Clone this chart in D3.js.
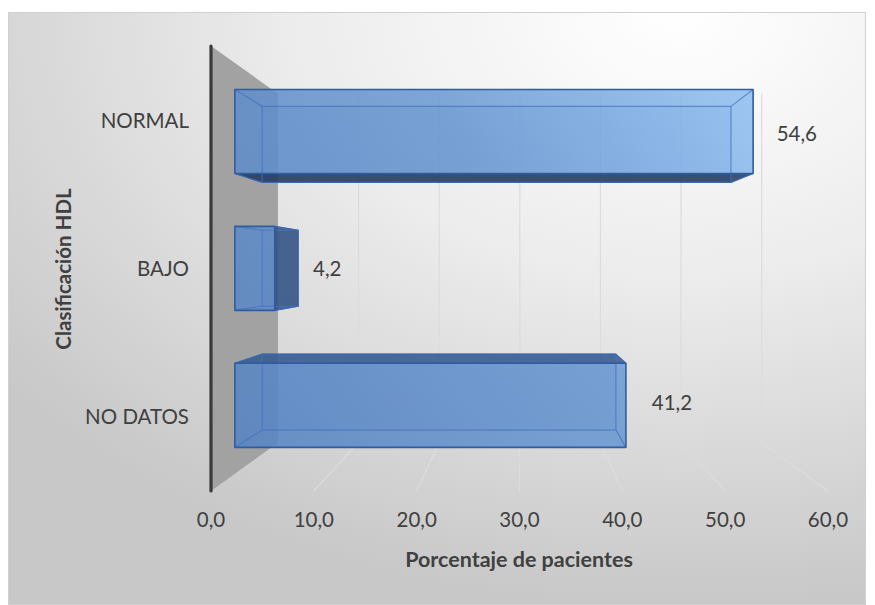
<!DOCTYPE html>
<html>
<head>
<meta charset="utf-8">
<script src="https://cdn.jsdelivr.net/npm/d3@7"></script>
<style>
  html, body { margin: 0; padding: 0; background: #ffffff; }
  svg { display: block; }
  text { font-family: Lato, "Open Sans", sans-serif; fill: #404040; }
</style>
</head>
<body>
<svg id="chart" width="875" height="605"></svg>
<script>
// Chart data
const categories = ["NORMAL", "BAJO", "NO DATOS"];
const values = [54.6, 4.2, 41.2];
const xTicks = [0, 10, 20, 30, 40, 50, 60];
const xTitle = "Porcentaje de pacientes";
const yTitle = "Clasificación HDL";

const svg = d3.select("#chart");
const defs = svg.append("defs");

// Spanish number format: comma decimal separator
const locale = d3.formatLocale({ decimal: ",", thousands: ".", grouping: [3], currency: ["", " €"] });
const fmt = locale.format(".1f");

// Front plane scales (depth factor 1)
const x = d3.scaleLinear().domain([0, 60]).range([211, 828]);
const y = d3.scaleBand().domain(categories).range([46, 491])
  .paddingInner(0.386).paddingOuter(0.193);

// Simple central projection toward a vanishing point; s = depth scale factor
const VX = 521, VY = 267;
const WALL_BACK = 0.784, BAR_FRONT = 0.923, BAR_BACK = 0.835, LABEL_DEPTH = 0.906;
const P = (xf, yf, s) => [VX + s * (xf - VX), VY + s * (yf - VY)];
const line = d3.line();

// Chart area background
const bg = defs.append("radialGradient").attr("id", "bg")
  .attr("cx", 0.78).attr("cy", 0.0).attr("r", 1.0)
  .attr("fx", 0.78).attr("fy", 0.0);
bg.append("stop").attr("offset", 0).attr("stop-color", "#ffffff");
bg.append("stop").attr("offset", 0.45).attr("stop-color", "#ececec");
bg.append("stop").attr("offset", 1).attr("stop-color", "#c8c8c8");

svg.append("rect")
  .attr("x", 8.5).attr("y", 12.5).attr("width", 857).attr("height", 592)
  .attr("fill", "url(#bg)").attr("stroke", "#d0d0d0").attr("stroke-width", 1);

// Front face gradient
const fg = defs.append("linearGradient").attr("id", "barFront")
  .attr("gradientUnits", "userSpaceOnUse")
  .attr("x1", 236).attr("y1", 420).attr("x2", 760).attr("y2", 90);
fg.append("stop").attr("offset", 0).attr("stop-color", "#5784c3");
fg.append("stop").attr("offset", 0.55).attr("stop-color", "#6a98d2");
fg.append("stop").attr("offset", 1).attr("stop-color", "#8fbff2");

const [yTop, yBot] = y.range();

// Side wall (value axis origin plane)
const x0 = x(0);
svg.append("path")
  .attr("d", line([P(x0, yTop, 1), P(x0, yTop, WALL_BACK), P(x0, yBot, WALL_BACK), P(x0, yBot, 1)]) + "Z")
  .attr("fill", "#a2a2a2");

// Gridlines: back wall verticals and floor lines
const grid = svg.append("g").attr("stroke", "#dcdcdc").attr("stroke-width", 1.2).attr("fill", "none");
xTicks.filter(t => t > 0).forEach(t => {
  grid.append("path").attr("d", line([P(x(t), yTop, WALL_BACK), P(x(t), yBot, WALL_BACK)]));
  grid.append("path").attr("d", line([P(x(t), yBot, WALL_BACK), P(x(t), yBot, 1)]));
});

// Axis line along the front edge of the wall
svg.append("line")
  .attr("x1", x0).attr("x2", x0).attr("y1", yTop).attr("y2", yBot)
  .attr("stroke", "#3a3a3a").attr("stroke-width", 3.2).attr("stroke-linecap", "round");

// Bars as translucent boxes
const bars = svg.append("g");
categories.forEach((c, i) => {
  const v = values[i];
  const xa = x(0), xb = x(v), ya = y(c), yb = y(c) + y.bandwidth();
  const F = [P(xa, ya, BAR_FRONT), P(xb, ya, BAR_FRONT), P(xb, yb, BAR_FRONT), P(xa, yb, BAR_FRONT)];
  const B = [P(xa, ya, BAR_BACK), P(xb, ya, BAR_BACK), P(xb, yb, BAR_BACK), P(xa, yb, BAR_BACK)];
  const g = bars.append("g");

  // back face
  g.append("path").attr("d", line(B) + "Z")
    .attr("fill", "#4a78c0").attr("fill-opacity", 0.25);

  // visible side faces
  if (yb < VY) { // underside
    g.append("path").attr("d", line([F[3], F[2], B[2], B[3]]) + "Z")
      .attr("fill", "#1d3760").attr("fill-opacity", 0.85)
      .attr("stroke", "#2b4f86").attr("stroke-width", 1);
  }
  if (ya > VY) { // top
    g.append("path").attr("d", line([F[0], F[1], B[1], B[0]]) + "Z")
      .attr("fill", "#35588f").attr("fill-opacity", 0.85)
      .attr("stroke", "#2b5593").attr("stroke-width", 1);
  }
  if (xb < VX) { // right end
    g.append("path").attr("d", line([F[1], F[2], B[2], B[1]]) + "Z")
      .attr("fill", "#2c4c7e").attr("fill-opacity", 0.82)
      .attr("stroke", "#2b5593").attr("stroke-width", 1);
  }

  // front face
  g.append("path").attr("d", line(F) + "Z")
    .attr("fill", "url(#barFront)").attr("fill-opacity", 0.86);

  // hidden edges seen through the translucent faces
  const hidden = g.append("g").attr("stroke", "#3f73bd").attr("stroke-opacity", 0.7)
    .attr("stroke-width", 1.2).attr("fill", "none");
  hidden.append("path").attr("d", line(B) + "Z");
  for (let k = 0; k < 4; k++) hidden.append("path").attr("d", line([F[k], B[k]]));

  // front outline
  g.append("path").attr("d", line(F) + "Z")
    .attr("fill", "none").attr("stroke", "#2f5d9f").attr("stroke-width", 1.6)
    .attr("stroke-linejoin", "round");
});

// Value labels
categories.forEach((c, i) => {
  const v = values[i];
  const [lx, ly] = P(x(v) + 53, y(c) + y.bandwidth() / 2, LABEL_DEPTH);
  svg.append("text")
    .attr("x", lx).attr("y", ly).attr("dy", "0.36em")
    .attr("text-anchor", "middle").attr("font-size", 20.5)
    .text(fmt(v));
});

// Category labels
categories.forEach(c => {
  svg.append("text")
    .attr("x", 189).attr("y", y(c) + y.bandwidth() / 2).attr("dy", "0.36em")
    .attr("text-anchor", "end").attr("font-size", 20.5)
    .text(c);
});

// Value axis tick labels
xTicks.forEach(t => {
  svg.append("text")
    .attr("x", x(t)).attr("y", 527)
    .attr("text-anchor", "middle").attr("font-size", 20.5)
    .text(fmt(t));
});

// Axis titles
svg.append("text")
  .attr("x", 519).attr("y", 567)
  .attr("text-anchor", "middle").attr("font-size", 21.5).attr("font-weight", "bold")
  .text(xTitle);

svg.append("text")
  .attr("transform", "translate(71,269) rotate(-90)")
  .attr("text-anchor", "middle").attr("font-size", 20.5).attr("font-weight", "bold")
  .text(yTitle);
</script>
</body>
</html>
